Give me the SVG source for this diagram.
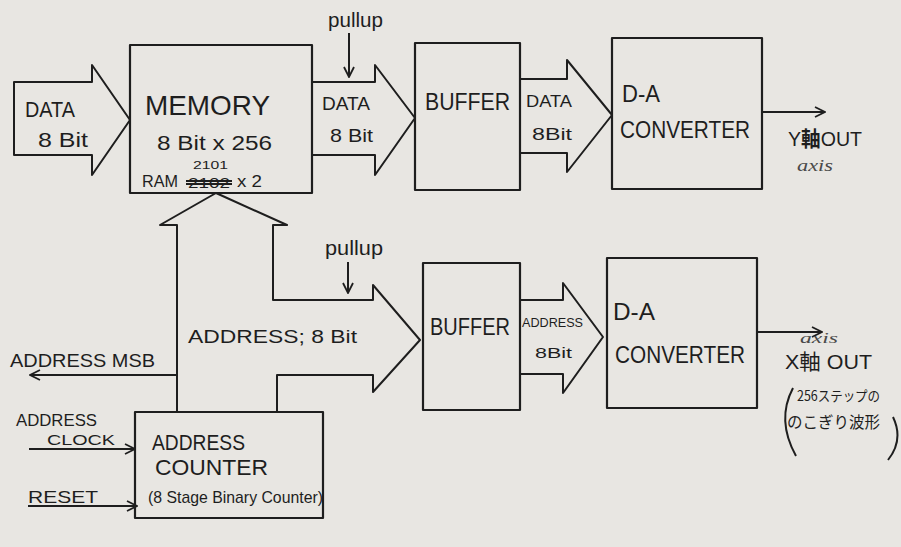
<svg xmlns="http://www.w3.org/2000/svg" width="901" height="547" viewBox="0 0 901 547">
<defs>
<style>
.bg{fill:#e8e6e2}
.box{fill:none;stroke:#1e1e1e;stroke-width:2.2;stroke-linejoin:round}
.bus{fill:none;stroke:#1e1e1e;stroke-width:2;stroke-linejoin:round}
.ln{fill:none;stroke:#1e1e1e;stroke-width:2}
.t{font-family:"Liberation Sans","Noto Sans CJK JP",sans-serif;fill:#1e1e1e}
.j{font-family:"Noto Sans CJK JP","Liberation Sans",sans-serif;fill:#1e1e1e}
.ax{font-family:"Liberation Serif",serif;font-style:italic;fill:#4a4a4a}
</style>
<marker id="ah" viewBox="0 0 12 12" refX="11" refY="6" markerWidth="12" markerHeight="12" markerUnits="userSpaceOnUse" orient="auto">
<path d="M1,1 L11,6 L1,11" fill="none" stroke="#1e1e1e" stroke-width="1.8"/>
</marker>
</defs>
<rect class="bg" x="0" y="0" width="901" height="547"/>

<g id="connectors">
<!-- DATA in -->
<path class="bus" d="M14,82 H92 V65 L130,120 L92,175 V155 H14 Z"/>
<!-- memory to buffer -->
<path class="bus" d="M312,82 H375 V65 L415,118 L375,175 V155 H312"/>
<!-- buffer to D-A -->
<path class="bus" d="M520,79 H567 V60 L612,115 L567,172 V153 H520"/>
<!-- address bus -->
<path class="bus" d="M177,412 V225 H160 L216,193 L287,225 H273 V300 H373 V285 L420,340 L373,392 V375 H277 V412"/>
<!-- buffer to D-A lower -->
<path class="bus" d="M520,300 H563 V283 L603,337 L563,393 V374 H520"/>
<!-- pullups -->
<line class="ln" x1="349" y1="33" x2="349" y2="77" marker-end="url(#ah)"/>
<line class="ln" x1="348" y1="262" x2="348" y2="293" marker-end="url(#ah)"/>
<!-- outputs -->
<line class="ln" x1="762" y1="112" x2="825" y2="112" marker-end="url(#ah)"/>
<line class="ln" x1="757" y1="332" x2="822" y2="332" marker-end="url(#ah)"/>
<!-- MSB -->
<line class="ln" x1="177" y1="375" x2="30" y2="375" marker-end="url(#ah)"/>
<!-- clock & reset -->
<line class="ln" x1="29" y1="449" x2="135" y2="449" marker-end="url(#ah)"/>
<line class="ln" x1="28" y1="506" x2="137" y2="506" marker-end="url(#ah)"/>

<text class="t" x="25" y="117" font-size="22" textLength="50" lengthAdjust="spacingAndGlyphs">DATA</text>
<text class="t" x="38" y="147" font-size="21" textLength="50" lengthAdjust="spacingAndGlyphs">8 Bit</text>
<text class="t" x="322" y="110" font-size="19" textLength="48" lengthAdjust="spacingAndGlyphs">DATA</text>
<text class="t" x="330" y="142" font-size="19" textLength="43" lengthAdjust="spacingAndGlyphs">8 Bit</text>
<text class="t" x="526" y="107" font-size="17" textLength="46" lengthAdjust="spacingAndGlyphs">DATA</text>
<text class="t" x="532" y="140" font-size="17" textLength="40" lengthAdjust="spacingAndGlyphs">8Bit</text>
<text class="t" x="328" y="27" font-size="20" textLength="55" lengthAdjust="spacingAndGlyphs">pullup</text>
<text class="t" x="325" y="255" font-size="20" textLength="58" lengthAdjust="spacingAndGlyphs">pullup</text>
<text class="t" x="188" y="343" font-size="19" textLength="169" lengthAdjust="spacingAndGlyphs">ADDRESS; 8 Bit</text>
<text class="t" x="522" y="327" font-size="13" textLength="61" lengthAdjust="spacingAndGlyphs">ADDRESS</text>
<text class="t" x="535" y="358" font-size="14" textLength="37" lengthAdjust="spacingAndGlyphs">8Bit</text>
<text class="t" x="10" y="367" font-size="18" textLength="145" lengthAdjust="spacingAndGlyphs">ADDRESS  MSB</text>
<text class="t" x="16" y="426" font-size="16" textLength="81" lengthAdjust="spacingAndGlyphs">ADDRESS</text>
<text class="t" x="47" y="445" font-size="14" textLength="68" lengthAdjust="spacingAndGlyphs">CLOCK</text>
<text class="t" x="28" y="503" font-size="17" textLength="70" lengthAdjust="spacingAndGlyphs">RESET</text>
<text class="t" x="788" y="146" font-size="21" textLength="74" lengthAdjust="spacingAndGlyphs">Y<tspan font-weight="bold">軸</tspan>OUT</text>
<text class="ax" x="797" y="171" font-size="17" textLength="36" lengthAdjust="spacingAndGlyphs">axis</text>
<text class="ax" x="800" y="343" font-size="15" textLength="38" lengthAdjust="spacingAndGlyphs">axis</text>
<text class="t" x="785" y="369" font-size="21" textLength="87" lengthAdjust="spacingAndGlyphs">X軸 OUT</text>
<text class="j" x="797" y="401" font-size="14" textLength="83" lengthAdjust="spacingAndGlyphs">256ステップの</text>
<text class="j" x="787" y="428" font-size="16" textLength="93" lengthAdjust="spacingAndGlyphs">のこぎり波形</text>
<path class="ln" d="M793,388 Q776,420 796,456" stroke-width="1.8"/>
<path class="ln" d="M893,417 Q904,440 888,460" stroke-width="1.8"/>
</g>

<g id="memory">
<rect class="box" x="130" y="45" width="182" height="148"/>
<text class="t" x="145" y="115" font-size="28" textLength="125" lengthAdjust="spacingAndGlyphs">MEMORY</text>
<text class="t" x="157" y="150" font-size="20" textLength="115" lengthAdjust="spacingAndGlyphs">8 Bit x 256</text>
<text class="t" x="142" y="187" font-size="17" textLength="36" lengthAdjust="spacingAndGlyphs">RAM</text>
<text class="t" x="188" y="188" font-size="14" textLength="42" lengthAdjust="spacingAndGlyphs">2102</text>
<line class="ln" x1="186" y1="181" x2="232" y2="181" stroke-width="1.6"/>
<line class="ln" x1="186" y1="184" x2="232" y2="184" stroke-width="1.2"/>
<text class="t" x="193" y="169" font-size="11" textLength="35" lengthAdjust="spacingAndGlyphs">2101</text>
<text class="t" x="237" y="187" font-size="16" textLength="25" lengthAdjust="spacingAndGlyphs">x 2</text>
</g>

<g id="buffer-data">
<rect class="box" x="415" y="43" width="105" height="147"/>
<text class="t" x="425" y="110" font-size="24" textLength="85" lengthAdjust="spacingAndGlyphs">BUFFER</text>
</g>

<g id="da-y">
<rect class="box" x="612" y="38" width="150" height="151"/>
<text class="t" x="622" y="102" font-size="24" textLength="38" lengthAdjust="spacingAndGlyphs">D-A</text>
<text class="t" x="620" y="138" font-size="24" textLength="130" lengthAdjust="spacingAndGlyphs">CONVERTER</text>
</g>

<g id="buffer-address">
<rect class="box" x="423" y="263" width="97" height="147"/>
<text class="t" x="430" y="335" font-size="24" textLength="80" lengthAdjust="spacingAndGlyphs">BUFFER</text>
</g>

<g id="da-x">
<rect class="box" x="607" y="258" width="150" height="150"/>
<text class="t" x="613" y="320" font-size="24" textLength="42" lengthAdjust="spacingAndGlyphs">D-A</text>
<text class="t" x="615" y="363" font-size="24" textLength="130" lengthAdjust="spacingAndGlyphs">CONVERTER</text>
</g>

<g id="address-counter">
<rect class="box" x="135" y="412" width="188" height="106"/>
<text class="t" x="152" y="450" font-size="22" textLength="93" lengthAdjust="spacingAndGlyphs">ADDRESS</text>
<text class="t" x="155" y="475" font-size="22" textLength="113" lengthAdjust="spacingAndGlyphs">COUNTER</text>
<text class="t" x="148" y="503" font-size="17" textLength="175" lengthAdjust="spacingAndGlyphs">(8 Stage Binary Counter)</text>
</g>
</svg>
